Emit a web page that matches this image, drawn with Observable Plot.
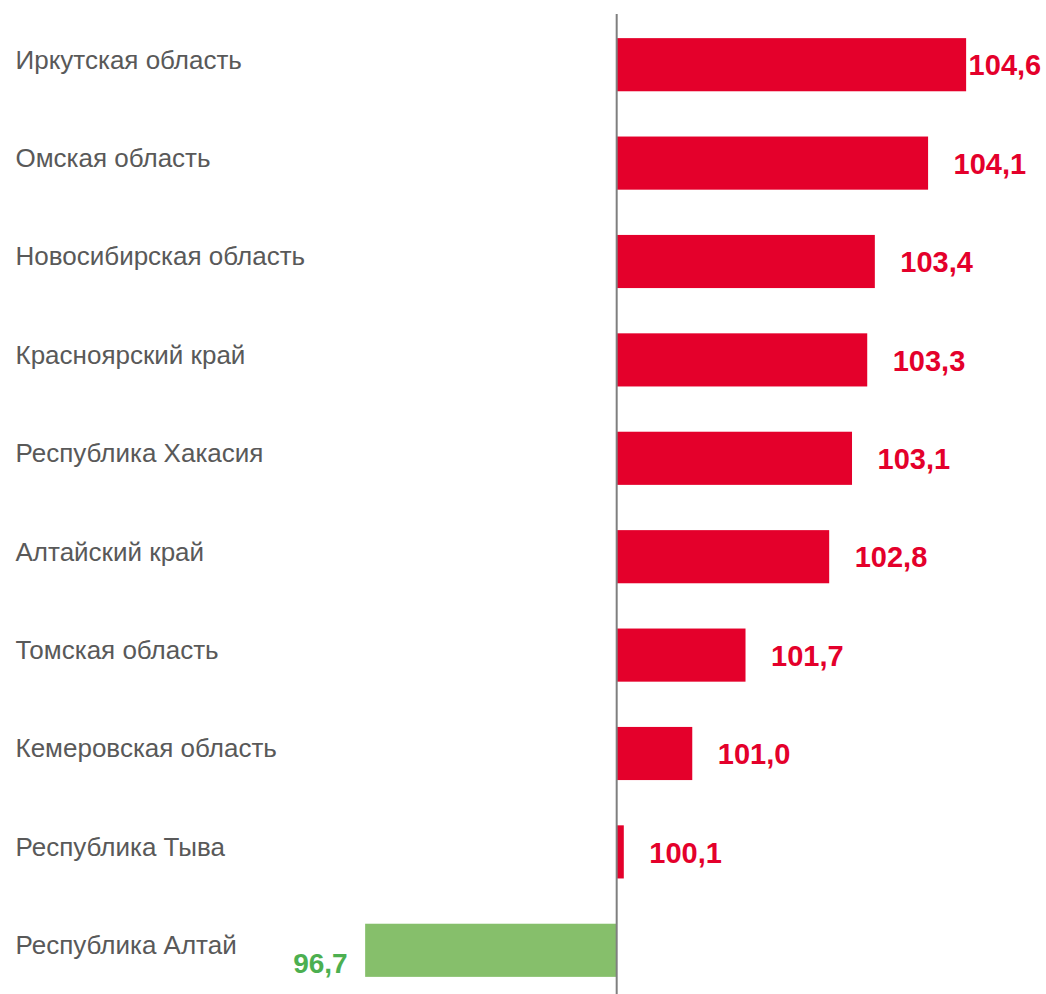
<!DOCTYPE html>
<html>
<head>
<meta charset="utf-8">
<script src="https://cdn.jsdelivr.net/npm/d3@7"></script>
<script src="https://cdn.jsdelivr.net/npm/@observablehq/plot@0.6"></script>
<style>
  html, body { margin: 0; padding: 0; background: #fff; }
  #chart svg { display: block; }
</style>
</head>
<body>
<div id="chart"></div>
<script>
const regions = [
  "Иркутская область",
  "Омская область",
  "Новосибирская область",
  "Красноярский край",
  "Республика Хакасия",
  "Алтайский край",
  "Томская область",
  "Кемеровская область",
  "Республика Тыва",
  "Республика Алтай"
];
const values = [104.6, 104.1, 103.4, 103.3, 103.1, 102.8, 101.7, 101.0, 100.1, 96.7];
const baseline = 100;

const data = regions.map((r, i) => ({region: r, value: values[i]}));
const fmt = v => v.toFixed(1).replace(".", ",");
const up = data.filter(d => d.value >= baseline);
const down = data.filter(d => d.value < baseline);
const maxVal = d3.max(values);

const RED = "#E4002B";
const GREEN = "#86BF6B";
const GREEN_TEXT = "#4CAF50";

const plot = Plot.plot({
  width: 1046,
  height: 994,
  marginLeft: 0,
  marginRight: 0,
  marginTop: 14,
  marginBottom: 0,
  style: {fontFamily: "'Liberation Sans', Arial, sans-serif", background: "#fff"},
  x: {domain: [91.9, 105.65], axis: null},
  y: {domain: regions, range: [15.5, 999.5], round: false, padding: 0.46, paddingOuter: 0.23, axis: null},
  marks: [
    Plot.barX(data, {x1: baseline, x2: "value", y: "region", fill: d => d.value >= baseline ? RED : GREEN}),
    Plot.ruleX([baseline], {stroke: "#7f7f7f", strokeWidth: 2}),
    Plot.text(data, {y: "region", text: "region", frameAnchor: "left", textAnchor: "start", dx: 15, dy: -5, fontSize: 26, fill: "#595959"}),
    Plot.text(up.filter(d => d.value !== maxVal), {x: "value", y: "region", text: d => fmt(d.value), textAnchor: "start", dx: 25, dy: 1, fontSize: 29, fontWeight: "bold", fill: RED}),
    Plot.text(up.filter(d => d.value === maxVal), {x: "value", y: "region", text: d => fmt(d.value), textAnchor: "start", dx: 2, dy: 1, fontSize: 29, fontWeight: "bold", fill: RED}),
    Plot.text(down, {x: "value", y: "region", text: d => fmt(d.value), textAnchor: "end", dx: -18, dy: 13, fontSize: 28, fontWeight: "bold", fill: GREEN_TEXT})
  ]
});
document.getElementById("chart").appendChild(plot);
</script>
</body>
</html>
